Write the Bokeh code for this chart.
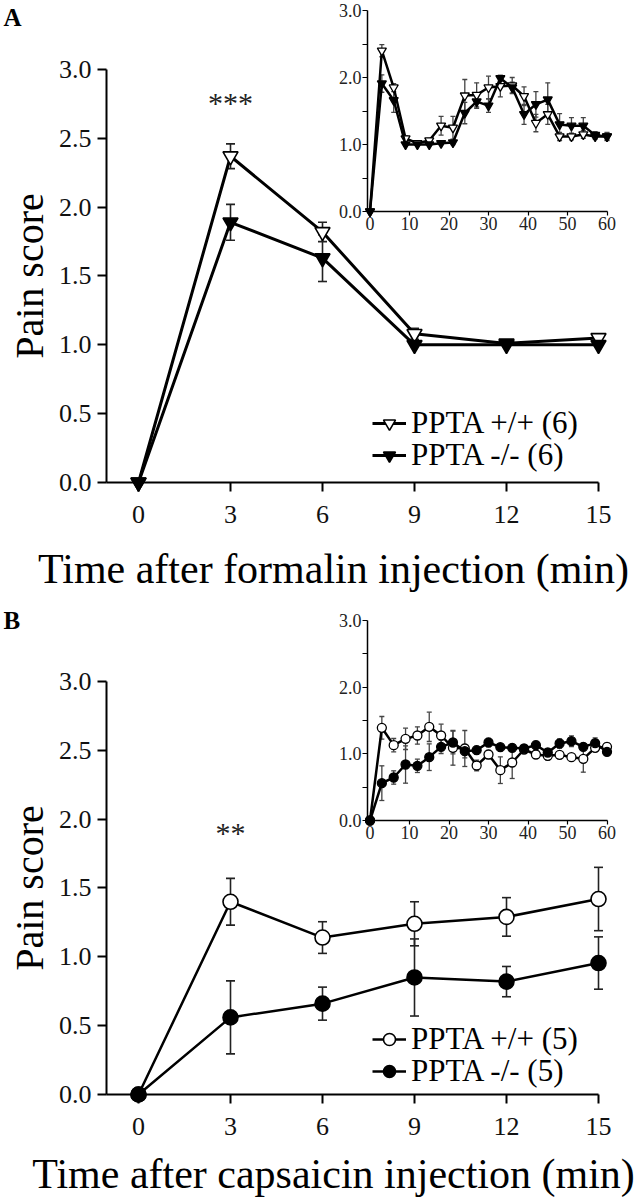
from bokeh.plotting import figure
from bokeh.models import (Range1d, LinearAxis, FixedTicker, PrintfTickFormatter,
                          Whisker, TeeHead, ColumnDataSource, Legend, LegendItem, Label)
from bokeh.layouts import column
from bokeh.embed import file_html
from bokeh.resources import INLINE

# ---------------- data ----------------
times_main = [0, 3, 6, 9, 12, 15]
times_inset = [0, 3, 6, 9, 12, 15, 18, 21, 24, 27, 30, 33, 36, 39, 42, 45, 48, 51, 54, 57, 60]

# Panel A: formalin (main, 0-15 min)
a_wt = [0, 2.37, 1.82, 1.08, 1.01, 1.05]
a_wt_err = [0, 0.09, 0.07, 0.04, 0.02, 0.03]
a_ko = [0, 1.89, 1.63, 1.00, 1.00, 1.00]
a_ko_err = [0, 0.13, 0.17, 0.01, 0.01, 0.01]

# Panel A inset: formalin 0-60 min
ia_wt = [0, 2.40, 1.85, 1.09, 1.02, 1.06, 1.28, 1.25, 1.73, 1.74, 1.85, 1.87, 1.88, 1.72,
         1.32, 1.45, 1.12, 1.12, 1.15, 1.12, 1.12]
ia_wt_err = [0, 0.09, 0.06, 0.04, 0.02, 0.03, 0.14, 0.17, 0.24, 0.18, 0.17, 0.16, 0.12, 0.14,
             0.13, 0.15, 0.06, 0.05, 0.06, 0.04, 0.05]
ia_ko = [0, 1.91, 1.66, 1.00, 1.00, 1.00, 1.02, 1.03, 1.47, 1.64, 1.58, 1.99, 1.85, 1.45,
         1.60, 1.67, 1.30, 1.28, 1.28, 1.14, 1.12]
ia_ko_err = [0, 0.13, 0.18, 0.02, 0.01, 0.01, 0.02, 0.03, 0.16, 0.10, 0.10, 0.04, 0.08, 0.15,
             0.19, 0.25, 0.16, 0.12, 0.12, 0.05, 0.06]

# Panel B: capsaicin (main, 0-15 min)
b_wt = [0, 1.40, 1.14, 1.24, 1.29, 1.42]
b_wt_err = [0, 0.17, 0.115, 0.16, 0.14, 0.23]
b_ko = [0, 0.56, 0.66, 0.85, 0.82, 0.955]
b_ko_err = [0, 0.265, 0.12, 0.28, 0.11, 0.19]

# Panel B inset: capsaicin 0-60 min
ib_wt = [0, 1.39, 1.13, 1.225, 1.275, 1.405, 1.275, 1.09, 1.08, 0.825, 0.99, 0.755, 0.87,
         1.065, 0.99, 0.97, 0.985, 0.95, 0.925, 1.09, 1.105]
ib_wt_err = [0, 0.17, 0.10, 0.16, 0.13, 0.22, 0.17, 0.26, 0.27, 0.08, 0.06, 0.20, 0.24,
             0.05, 0.05, 0.06, 0.05, 0.04, 0.20, 0.05, 0.06]
ib_ko = [0, 0.56, 0.645, 0.84, 0.82, 0.95, 1.105, 1.17, 1.04, 1.055, 1.17, 1.10, 1.09,
         1.08, 1.13, 1.02, 1.155, 1.19, 1.105, 1.16, 1.03]
ib_ko_err = [0, 0.26, 0.10, 0.28, 0.10, 0.20, 0.10, 0.17, 0.10, 0.06, 0.06, 0.05, 0.05,
             0.05, 0.06, 0.04, 0.07, 0.08, 0.05, 0.08, 0.04]

main_y_ticks = [0, 0.5, 1.0, 1.5, 2.0, 2.5, 3.0]
inset_y_ticks = [0, 1, 2, 3]
inset_y_minor = [0.5, 1.5, 2.5]
inset_x_ticks = [0, 10, 20, 30, 40, 50, 60]

FONT = "Liberation Serif"
W = 639
MAIN_X = (-138 / 30.667, (W - 138) / 30.667)
MAIN_YAXIS_AT = -1.0435
INSET_X = (-369.5 / 3.95, (W - 369.5) / 3.95)
INSET_YAXIS_AT = -0.63


def src(t, v, e):
    return ColumnDataSource(dict(x=t, y=v, upper=[a + b for a, b in zip(v, e)],
                                 lower=[a - b for a, b in zip(v, e)]))


def whisker(p, s, lw, head, color, xr="default", yr="default"):
    p.add_layout(Whisker(source=s, base="x", upper="upper", lower="lower",
                         line_color=color, line_width=lw,
                         upper_head=TeeHead(size=head, line_width=lw, line_color=color),
                         lower_head=TeeHead(size=head, line_width=lw, line_color=color),
                         x_range_name=xr, y_range_name=yr))


def legend_row(p, label, renderers, loc):
    p.add_layout(Legend(items=[LegendItem(label=label, renderers=renderers)],
                        location=loc, glyph_width=34, glyph_height=30,
                        label_text_font=FONT, label_text_font_size="31px",
                        label_text_color="black", label_standoff=5, spacing=0,
                        padding=0, margin=0, border_line_alpha=0,
                        background_fill_alpha=0))


def panel(h, main_y, inset_y, marker, wt, wt_err, ko, ko_err, iwt, iwt_err, iko, iko_err,
          letter, letter_y, stars, stars_y, xlabel, xlabel_y, legend_labels, legend_locs,
          main_size, inset_size, main_lw):
    p = figure(width=W, height=h, x_range=Range1d(*MAIN_X), y_range=Range1d(*main_y),
               x_axis_type=None, y_axis_type=None, toolbar_location=None,
               output_backend="svg", min_border=0, title=None)
    p.outline_line_color = None
    p.background_fill_color = "white"
    p.border_fill_color = "white"
    p.extra_x_ranges = {"ix": Range1d(*INSET_X)}
    p.extra_y_ranges = {"iy": Range1d(*inset_y)}

    # main axes
    yax = LinearAxis(fixed_location=MAIN_YAXIS_AT, bounds=(0, 3),
                     ticker=FixedTicker(ticks=main_y_ticks),
                     formatter=PrintfTickFormatter(format="%.1f"),
                     axis_label="Pain score", axis_label_text_font=FONT,
                     axis_label_text_font_size="40px", axis_label_text_font_style="normal",
                     axis_label_text_color="black", axis_label_standoff=4,
                     major_label_text_font=FONT, major_label_text_font_size="26px",
                     major_label_text_color="#111111", major_label_standoff=6,
                     major_tick_out=9, major_tick_in=0, minor_tick_out=0, minor_tick_in=0,
                     axis_line_width=2, major_tick_line_width=2)
    xax = LinearAxis(fixed_location=0, bounds=(MAIN_YAXIS_AT, 15),
                     ticker=FixedTicker(ticks=times_main),
                     major_label_text_font=FONT, major_label_text_font_size="26px",
                     major_label_text_color="#111111", major_label_standoff=14,
                     major_tick_out=9, major_tick_in=0, minor_tick_out=0, minor_tick_in=0,
                     axis_line_width=2, major_tick_line_width=2)
    p.add_layout(yax, "left")
    p.add_layout(xax, "below")

    # inset axes
    iyax = LinearAxis(x_range_name="ix", y_range_name="iy", fixed_location=INSET_YAXIS_AT,
                      bounds=(0, 3),
                      ticker=FixedTicker(ticks=inset_y_ticks, minor_ticks=inset_y_minor),
                      formatter=PrintfTickFormatter(format="%.1f"),
                      major_label_text_font=FONT, major_label_text_font_size="18px",
                      major_label_text_color="#222222", major_label_standoff=1,
                      major_tick_out=5, major_tick_in=0, minor_tick_out=5, minor_tick_in=0,
                      axis_line_width=1.5, major_tick_line_width=1.2, minor_tick_line_width=1.2)
    ixax = LinearAxis(x_range_name="ix", y_range_name="iy", fixed_location=0,
                      bounds=(INSET_YAXIS_AT, 60),
                      ticker=FixedTicker(ticks=inset_x_ticks),
                      major_label_text_font=FONT, major_label_text_font_size="18px",
                      major_label_text_color="#222222", major_label_standoff=1,
                      major_tick_out=4, major_tick_in=0, minor_tick_out=0, minor_tick_in=0,
                      axis_line_width=1.5, major_tick_line_width=1.2)
    p.add_layout(iyax, "left")
    p.add_layout(ixax, "below")

    # main data
    s_wt = src(times_main, wt, wt_err)
    s_ko = src(times_main, ko, ko_err)
    whisker(p, s_wt, 1.6, 9, "#222222")
    whisker(p, s_ko, 1.6, 9, "#222222")
    l1 = p.line("x", "y", source=s_wt, line_color="black", line_width=main_lw)
    m1 = p.scatter("x", "y", source=s_wt, marker=marker, size=main_size,
                   fill_color="white", line_color="black", line_width=1.6)
    l2 = p.line("x", "y", source=s_ko, line_color="black", line_width=main_lw)
    m2 = p.scatter("x", "y", source=s_ko, marker=marker, size=main_size,
                   fill_color="black", line_color="black", line_width=1.6)

    # inset data
    si_wt = src(times_inset, iwt, iwt_err)
    si_ko = src(times_inset, iko, iko_err)
    whisker(p, si_wt, 1.3, 5, "#444444", "ix", "iy")
    whisker(p, si_ko, 1.3, 5, "#444444", "ix", "iy")
    p.line("x", "y", source=si_wt, line_color="black", line_width=2.5,
           x_range_name="ix", y_range_name="iy")
    p.scatter("x", "y", source=si_wt, marker=marker, size=inset_size, fill_color="white",
              line_color="black", line_width=1.3, x_range_name="ix", y_range_name="iy")
    p.line("x", "y", source=si_ko, line_color="black", line_width=2.5,
           x_range_name="ix", y_range_name="iy")
    p.scatter("x", "y", source=si_ko, marker=marker, size=inset_size, fill_color="black",
              line_color="black", line_width=1.3, x_range_name="ix", y_range_name="iy")

    # texts
    p.add_layout(Label(x=-4.40, y=letter_y, text=letter, text_font=FONT,
                       text_font_size="25px", text_font_style="bold", text_color="black",
                       text_baseline="middle", text_align="left"))
    p.add_layout(Label(x=3, y=stars_y, text=stars, text_font=FONT, text_font_size="30px",
                       text_color="#222222", text_baseline="middle", text_align="center"))
    p.add_layout(Label(x=6.36, y=xlabel_y, text=xlabel, text_font=FONT,
                       text_font_size="42px", text_color="black",
                       text_baseline="middle", text_align="center"))

    legend_row(p, legend_labels[0], [l1, m1], legend_locs[0])
    legend_row(p, legend_labels[1], [l2, m2], legend_locs[1])
    return p


HA = 606
HB = 593
SY = 137.667
pA = panel(HA, (-(HA - 482) / SY, 482 / SY), (-(HA - 211) / 67.0, 211 / 67.0),
           "inverted_triangle", a_wt, a_wt_err, a_ko, a_ko_err,
           ia_wt, ia_wt_err, ia_ko, ia_ko_err,
           "A", (482 - 17) / SY, "***", (482 - 102) / SY,
           "Time after formalin injection (min)", (482 - 568) / SY,
           ["PPTA +/+ (6)", "PPTA -/- (6)"], [(372, 165), (372, 133)], 15, 9, 3)
pB = panel(HB, (-(HB - 488) / SY, 488 / SY), (-(HB - 214) / 66.67, 214 / 66.67),
           "circle", b_wt, b_wt_err, b_ko, b_ko_err,
           ib_wt, ib_wt_err, ib_ko, ib_ko_err,
           "B", (488 - 14) / SY, "**", (488 - 226) / SY,
           "Time after capsaicin injection (min)", (488 - 567) / SY,
           ["PPTA +/+ (5)", "PPTA -/- (5)"], [(372, 142), (372, 110)], 15, 9, 2.5)

layout = column(pA, pB, spacing=0)
open("out.html", "w").write(file_html(layout, INLINE))
